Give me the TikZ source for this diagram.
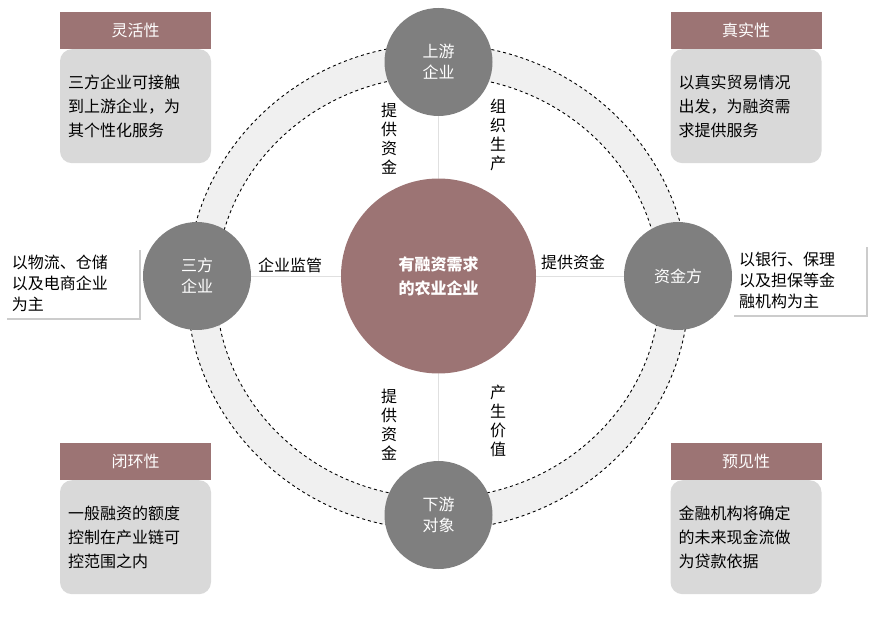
\documentclass[tikz,border=0pt]{standalone}
\usepackage{fontspec}
\setmainfont{Noto Sans CJK SC}
\usetikzlibrary{shadows}
\definecolor{rose}{HTML}{9C7474}
\definecolor{sat}{HTML}{7F7F7F}
\definecolor{bodyg}{HTML}{D9D9D9}
\definecolor{ringg}{HTML}{F0F0F0}
\begin{document}
\begin{tikzpicture}[x=1pt,y=-1pt,
  satnode/.style={circle,fill=sat,minimum size=108pt,inner sep=0pt,text=white,font=\fontsize{16}{21}\selectfont,align=center},
  head/.style={fill=rose,text=white,minimum width=151pt,minimum height=37pt,inner sep=0pt,font=\fontsize{16}{18}\selectfont},
  bodybox/.style={fill=bodyg,rounded corners=12pt,minimum width=151pt,minimum height=114pt,text width=135pt,inner sep=8pt,align=left,font=\fontsize{16}{24}\selectfont},
  sidebox/.style={fill=white,drop shadow={shadow xshift=2pt,shadow yshift=-2pt,opacity=0.4},text width=120pt,align=left,inner sep=7pt,font=\fontsize{16}{21}\selectfont},
  lbl/.style={font=\fontsize{16}{19}\selectfont,align=center},
  conn/.style={draw=black!12,line width=0.8pt}]
\useasboundingbox (0,0) rectangle (880,617);
% ring
\fill[ringg,even odd rule] (438,287) ellipse [x radius=251,y radius=243] (438,287) ellipse [x radius=222,y radius=211];
\draw[dashed,line width=0.9pt] (438,287) ellipse [x radius=251,y radius=243];
\draw[dashed,line width=0.9pt] (438,287) ellipse [x radius=222,y radius=211];
% side boxes
\node[sidebox] (s1) at (72,283) {以物流、仓储\\以及电商企业\\为主};
\node[sidebox] (s2) at (799,280) {以银行、保理\\以及担保等金\\融机构为主};
% center
\node[circle,fill=rose,minimum size=195pt,inner sep=0pt,text=white,font=\bfseries\fontsize{16}{24}\selectfont,align=center] (c) at (438.5,276) {有融资需求\\的农业企业};
\node[satnode] (top) at (438.5,62) {上游\\企业};
\node[satnode] (left) at (197,276) {三方\\企业};
\node[satnode] (right) at (678,276) {资金方};
\node[satnode] (bot) at (438.5,515) {下游\\对象};
\draw[conn] (c.north) -- (top.south);
\draw[conn] (c.south) -- (bot.north);
\draw[conn] (c.west) -- (left.east);
\draw[conn] (c.east) -- (right.west);
% labels
\node[lbl,text width=16pt] (l1) at (389,139) {提\\供\\资\\金};
\node[lbl,text width=16pt] (l2) at (498,135) {组\\织\\生\\产};
\node[lbl,text width=16pt] (l3) at (389,425) {提\\供\\资\\金};
\node[lbl,text width=16pt] (l4) at (498,421) {产\\生\\价\\值};
\node[lbl] (l5) at (290,265) {企业监管};
\node[lbl] (l6) at (573,262) {提供资金};
% corner boxes
\node[bodybox,anchor=north] (b1) at (135.5,49) {三方企业可接触\\到上游企业，为\\其个性化服务};
\node[head] (h1) at (135.5,30.5) {灵活性};
\node[bodybox,anchor=north] (b2) at (746,49) {以真实贸易情况\\出发，为融资需\\求提供服务};
\node[head] (h2) at (746,30.5) {真实性};
\node[bodybox,anchor=north] (b3) at (135.5,480) {一般融资的额度\\控制在产业链可\\控范围之内};
\node[head] (h3) at (135.5,461.5) {闭环性};
\node[bodybox,anchor=north] (b4) at (746,480) {金融机构将确定\\的未来现金流做\\为贷款依据};
\node[head] (h4) at (746,461.5) {预见性};
\end{tikzpicture}
\end{document}
